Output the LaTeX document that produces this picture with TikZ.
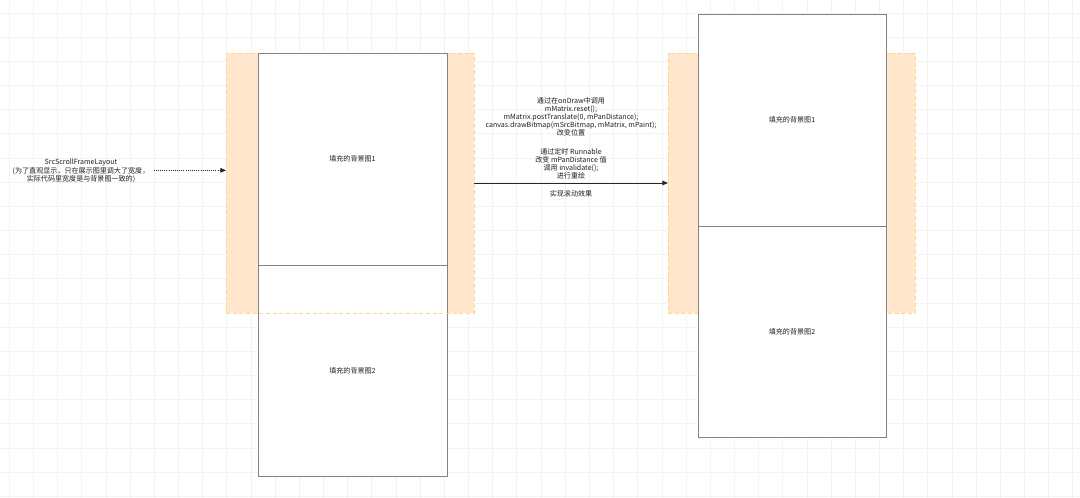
\documentclass[tikz,border=0pt]{standalone}
\usepackage{fontspec}
\setmainfont{Noto Sans CJK SC}
\usetikzlibrary{arrows.meta}
\definecolor{gridc}{RGB}{243,243,243}
\definecolor{orfill}{RGB}{255,230,204}
\definecolor{oredge}{RGB}{255,214,130}
\definecolor{boxedge}{RGB}{130,130,130}
\definecolor{txt}{RGB}{30,30,30}
\tikzset{
  orpanel/.style={fill=orfill, draw=none, inner sep=0pt, outer sep=0pt},
  oroutline/.style={draw=oredge, densely dashed, line width=0.5pt, fill=none, inner sep=0pt, outer sep=0pt},
  imgbox/.style={draw=boxedge, fill=white, line width=0.7pt, inner sep=0pt, outer sep=0pt,
    font=\fontsize{5.3pt}{6.2pt}\selectfont, text=txt},
  note/.style={align=center, inner sep=1pt, font=\fontsize{5.3pt}{6.1pt}\selectfont, text=txt},
  tip/.style={-{Triangle[length=4.2pt,width=3.4pt]}, line width=0.6pt, draw=black!85}
}
\begin{document}
\begin{tikzpicture}[x=0.75pt,y=-0.75pt]
\useasboundingbox (0,0) rectangle (1080,498);
\fill[white] (0,0) rectangle (1080,498);
% grid
\foreach \i in {0,...,44} {\draw[gridc, line width=0.6pt] ({9.3+24.17*\i},0) -- ({9.3+24.17*\i},498);}
\foreach \j in {0,...,20} {\draw[gridc, line width=0.6pt] (0,{13+24.17*\j}) -- (1080,{13+24.17*\j});}

% left group
\node[orpanel, minimum width=186pt, minimum height=195pt] (lo) at (350,183) {};
\node[oroutline, minimum width=186pt, minimum height=195pt] (lout) at (350,183) {};
\node[imgbox, minimum width=141.75pt, minimum height=159pt] (l1) at (352.5,159) {填充的背景图1};
\node[imgbox, minimum width=141.75pt, minimum height=158.25pt] (l2) at (352.5,370.5) {填充的背景图2};
\draw[oredge, densely dashed, line width=0.5pt] (lout.south west) -- (lout.south east);

% right group
\node[orpanel, minimum width=185.25pt, minimum height=195pt] (ro) at (791.5,183) {};
\node[oroutline, minimum width=185.25pt, minimum height=195pt] (rout) at (791.5,183) {};
\node[imgbox, minimum width=141pt, minimum height=159pt] (r1) at (792,120) {填充的背景图1};
\node[imgbox, minimum width=141pt, minimum height=158.25pt] (r2) at (792,331.5) {填充的背景图2};

% left label
\node[note] (lbl) at (81,171) {SrcScrollFrameLayout\\(为了直观显示，只在展示图里调大了宽度，\\实际代码里宽度是与背景图一致的)};
\draw[tip, densely dotted] ([xshift=2pt,yshift=0.5pt]lbl.east) -- ([yshift=0.5pt]lbl.east -| lo.west);

% middle arrow and labels
\draw[tip] (lo.east) -- (ro.west);
\node[note] (m1) at (571,117) {通过在onDraw中调用\\mMatrix.reset();\\mMatrix.postTranslate(0, mPanDistance);\\canvas.drawBitmap(mSrcBitmap, mMatrix, mPaint);\\改变位置};
\node[note] (m2) at (571,164) {通过定时 Runnable\\改变 mPanDistance 值\\调用 invalidate();\\进行重绘};
\node[note] (m3) at (571,194) {实现滚动效果};
\end{tikzpicture}
\end{document}
